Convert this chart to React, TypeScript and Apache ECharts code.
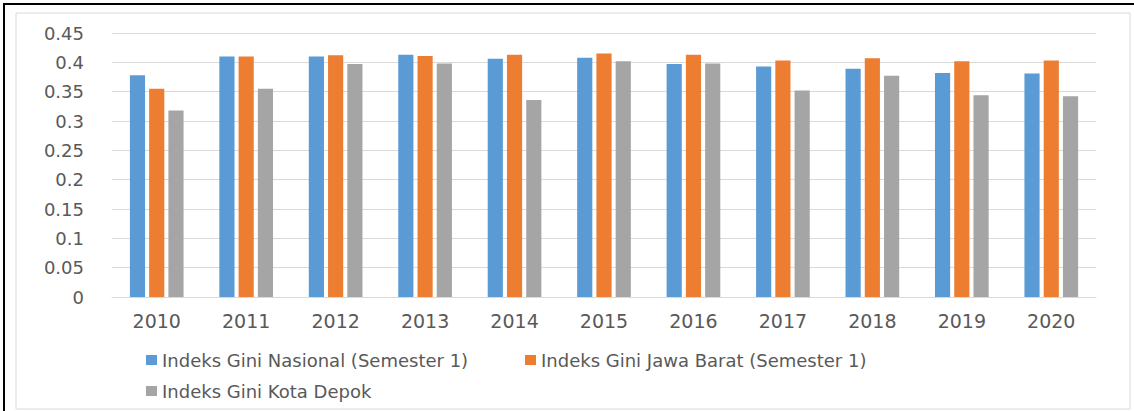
import React, { useEffect, useRef } from "react";
import * as echarts from "echarts";

const years = ["2010", "2011", "2012", "2013", "2014", "2015", "2016", "2017", "2018", "2019", "2020"];
const nasional = [0.378, 0.41, 0.41, 0.413, 0.406, 0.408, 0.397, 0.393, 0.389, 0.382, 0.381];
const jawaBarat = [0.355, 0.41, 0.412, 0.411, 0.413, 0.415, 0.413, 0.403, 0.407, 0.402, 0.403];
const depok = [0.318, 0.355, 0.397, 0.398, 0.336, 0.402, 0.398, 0.352, 0.377, 0.344, 0.342];
const seriesNames = [
  "Indeks Gini Nasional (Semester 1)",
  "Indeks Gini Jawa Barat (Semester 1)",
  "Indeks Gini Kota Depok",
];
const colors = ["#5B9BD5", "#ED7D31", "#A5A5A5"];

const FONT = "DejaVu Sans";
const TEXT = "#595959";

export default function App() {
  const ref = useRef<HTMLDivElement>(null);
  useEffect(() => {
    document.body.style.margin = "0";
    const chart = echarts.init(ref.current!, null, { renderer: "svg" });
    const values = [nasional, jawaBarat, depok];
    const legendPos = [
      { left: 141, top: 346 },
      { left: 520, top: 346 },
      { left: 141, top: 377 },
    ];
    chart.setOption({
      animation: false,
      backgroundColor: "#ffffff",
      color: colors,
      grid: { left: 112, right: 38, top: 33, bottom: 114, containLabel: false },
      legend: seriesNames.map((n, i) => ({
        data: [n],
        left: legendPos[i].left,
        top: legendPos[i].top,
        itemWidth: 11,
        itemHeight: 10,
        itemGap: 9,
        icon: "rect",
        textStyle: { fontFamily: FONT, fontSize: 18, color: TEXT },
      })),
      xAxis: {
        type: "category",
        data: years,
        axisLine: { lineStyle: { color: "#D9D9D9", width: 1 } },
        axisTick: { show: false },
        axisLabel: { fontFamily: FONT, fontSize: 19, color: TEXT, margin: 14 },
      },
      yAxis: {
        type: "value",
        min: 0,
        max: 0.45,
        interval: 0.05,
        axisLine: { show: false },
        axisTick: { show: false },
        splitLine: { lineStyle: { color: "#D9D9D9", width: 1 } },
        axisLabel: {
          fontFamily: FONT,
          fontSize: 18,
          color: TEXT,
          margin: 28,
          formatter: (v: number) => String(parseFloat(v.toFixed(2))),
        },
      },
      series: seriesNames.map((n, i) => ({
        name: n,
        type: "bar",
        data: values[i],
        barGap: "27%",
        barCategoryGap: "40%",
        itemStyle: { color: colors[i] },
      })),
      graphic: [
        {
          type: "rect",
          shape: { x: 16, y: 13, width: 1114, height: 396 },
          style: { fill: "none", stroke: "#D9D9D9", lineWidth: 1 },
          silent: true,
        },
        {
          type: "rect",
          shape: { x: 4, y: 4, width: 1140, height: 420 },
          style: { fill: "none", stroke: "#000000", lineWidth: 2 },
          silent: true,
        },
      ],
    });
    return () => chart.dispose();
  }, []);
  return <div ref={ref} style={{ width: 1134, height: 411 }} />;
}
